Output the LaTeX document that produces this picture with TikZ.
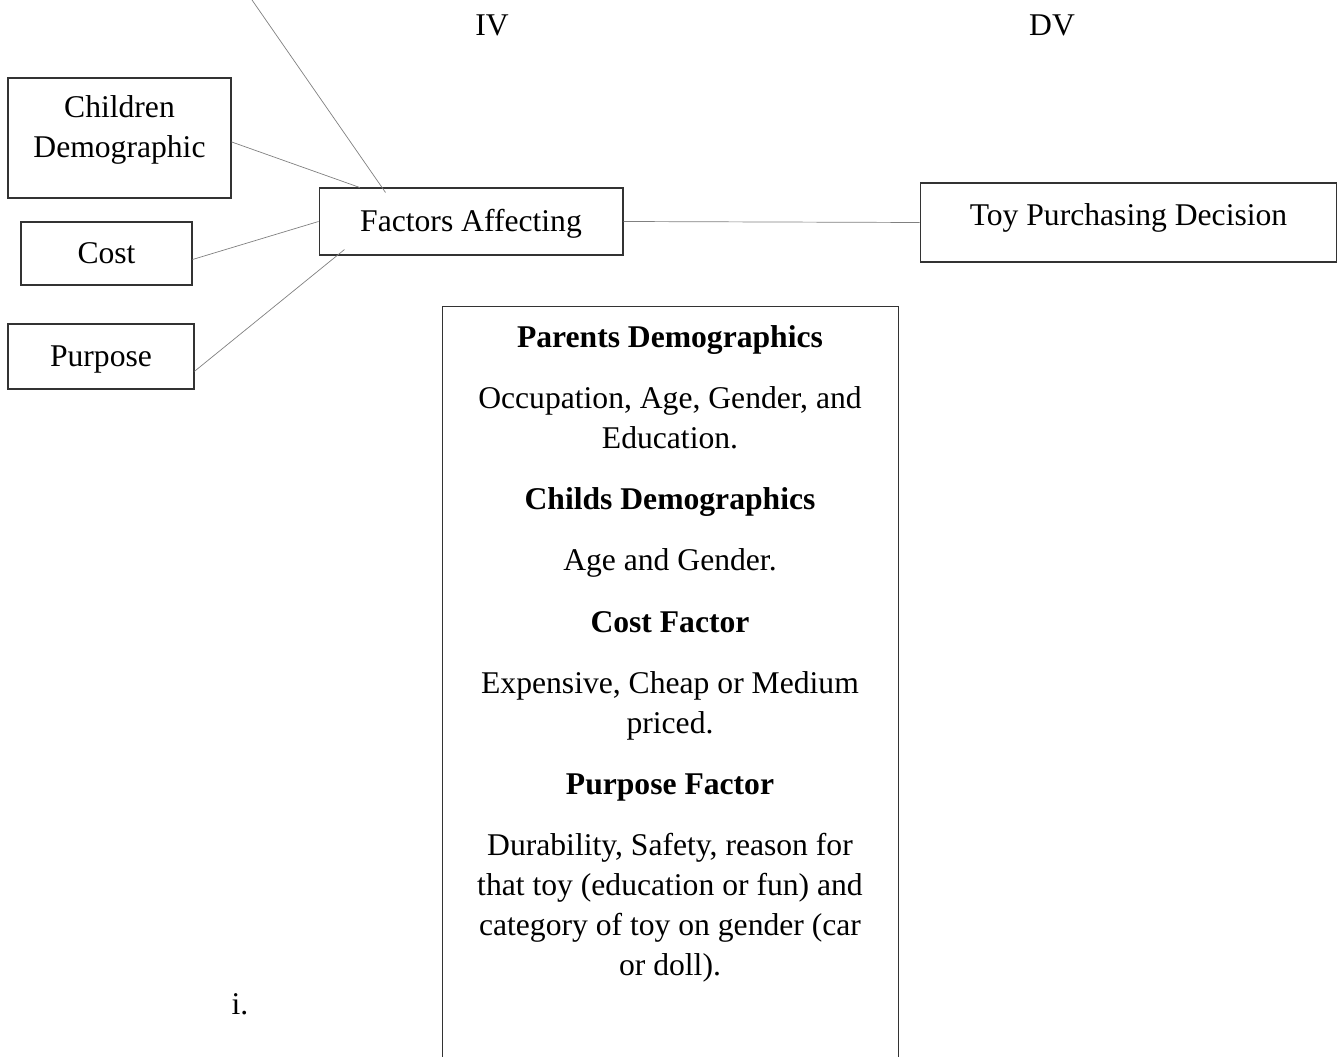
\documentclass[tikz,border=0pt]{standalone}
\usepackage{fontspec}
\setmainfont{Liberation Serif}
\usetikzlibrary{positioning,calc}
\newcommand{\bodysize}{\fontsize{18}{22.7}\selectfont}
\tikzset{
  box/.style={rectangle, draw=black!80, line width=0.6pt, inner sep=0pt,
              align=center, font=\bodysize, text height=12.5pt, text depth=1pt},
  link/.style={draw=black!50, line width=0.4pt},
  txt/.style={inner sep=0pt, font=\bodysize},
}

\begin{document}
\begin{tikzpicture}[x=0.02cm, y=-0.02cm]
      \clip (0,0) rectangle (1340,1057);
      \node[txt] (iv) at (492,25) {IV};
      \node[txt] (dv) at (1052,25) {DV};

      % input boxes
      \node[box, minimum width=4.46cm, minimum height=2.4cm, text height=37.5pt, text depth=15.8pt] (child) at (119.5,138) {Children\\Demographic};
      \node[box, minimum width=3.42cm, minimum height=1.26cm] (cost) at (106.5,253.5) {Cost};
      \node[box, minimum width=3.72cm, minimum height=1.3cm] (purpose) at (101,356.5) {Purpose};
      \node[box, minimum width=6.08cm, minimum height=1.34cm] (factors) at (471,221.5) {Factors Affecting};
      \node[box, minimum width=8.34cm, minimum height=1.58cm, text depth=8.9pt] (toy) at (1128.5,222.5) {Toy Purchasing Decision};

      % the big list
      \node[box, minimum width=9.14cm, minimum height=15.48cm] (factlist) at (670.5,693) {};
      \node[txt, align=center, anchor=north] (factitems) at (670,325) {%
        \textbf{Parents Demographics}\\[12.15pt]
        Occupation, Age, Gender, and\\
        Education.\\[12.15pt]
        \textbf{Childs Demographics}\\[12.15pt]
        Age and Gender.\\[12.15pt]
        \textbf{Cost Factor}\\[12.15pt]
        Expensive, Cheap or Medium\\
        priced.\\[12.15pt]
        \textbf{Purpose Factor}\\[12.15pt]
        Durability, Safety, reason for\\
        that toy (education or fun) and\\
        category of toy on gender (car\\
        or doll).};
      \node[txt] (roman) at (240,1004) {i.};

      % links
      \coordinate (topstart) at (252,0);
      \draw[link] (topstart) -- ($(factors.north west)+(67,5)$);
      \draw[link] (child.-2.6) -- (factors.163.5);
      \draw[link] (cost.-4.3) -- (factors.west);
      \draw[link] (purpose.-9.5) -- ($(factors.south west)+(26,-6)$);
      \draw[link] (factors.east) -- (toy.west);
\end{tikzpicture}
\end{document}
